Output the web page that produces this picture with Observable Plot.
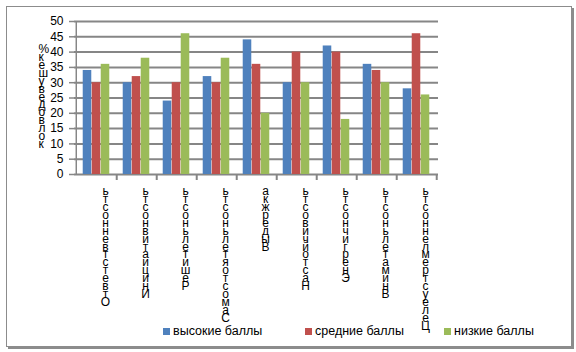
<!DOCTYPE html>
<html>
<head>
<meta charset="utf-8">
<script src="https://cdn.jsdelivr.net/npm/d3@7"></script>
<script src="https://cdn.jsdelivr.net/npm/@observablehq/plot@0.6"></script>
<style>
  html, body { margin: 0; padding: 0; background: #fff; }
  #wrap { position: relative; width: 576px; height: 352px; overflow: hidden; font-family: "Liberation Sans", Arial, sans-serif; }
  #frame { position: absolute; left: 6px; top: 6px; width: 564px; height: 339px; border: 1px solid #8c8c8c; box-shadow: 2px 2px 0 #8c8c8c; }
  #chart { position: absolute; left: 0; top: 0; }
  .leg { position: absolute; top: 324px; font-size: 12.5px; color: #000; white-space: nowrap; display: flex; align-items: center; }
  .leg i { display: inline-block; width: 7px; height: 7px; margin-right: 3px; }
</style>
</head>
<body>
<div id="wrap">
  <div id="frame"></div>
  <div id="chart"></div>
  <div id="legend"></div>
</div>
<script>
const categories = ["Ответственность","Инициативность","Решительность","Самостоятельность","Выдержка","Настойчивость","Энергичность","Внимательность","Целеустремленность"];
const series = ["высокие баллы","средние баллы","низкие баллы"];
const highScores = [34,30,24,32,44,30,42,36,28];
const midScores  = [30,32,30,30,36,40,40,34,46];
const lowScores  = [36,38,46,38,20,30,18,30,26];
const yTicks = [0,5,10,15,20,25,30,35,40,45,50];
const yLabel = "колво девушек %";
const colors = ["#4F81BD","#C0504D","#9BBB59"];

const W = 576, H = 352;
const mL = 74, mR = 138, mT = 21, mB = 178;
const step = (W - mL - mR) / categories.length;
const barW = 9;
const inset = (step - barW) / 2;
const gray = "#868686";

const valuesBySeries = [highScores, midScores, lowScores];
const rows = [];
series.forEach((s, si) => categories.forEach((c, ci) => rows.push({category: c, series: s, value: valuesBySeries[si][ci]})));

const stack = s => [...s.replace(/ /g, "")].reverse().join("\n");

const barMarks = series.map((s, si) =>
  Plot.barY(rows.filter(r => r.series === s), {
    x: "category", y: "value", fill: colors[si],
    insetLeft: inset, insetRight: inset, dx: (si - 1) * barW
  })
);

const chart = Plot.plot({
  width: W, height: H,
  marginLeft: mL, marginRight: mR, marginTop: mT, marginBottom: mB,
  style: {fontFamily: "Liberation Sans, Arial, sans-serif", fontSize: "12px", color: "#000", background: "transparent"},
  x: {type: "band", domain: categories, padding: 0},
  y: {domain: [0, 50]},
  marks: [
    Plot.gridY(yTicks, {stroke: gray, strokeOpacity: 1, strokeWidth: 2}),
    ...barMarks,
    Plot.ruleX([categories[0]], {dx: -step / 2, stroke: gray, strokeWidth: 1.5}),
    Plot.axisY({ticks: yTicks, tickSize: 5, tickPadding: 6, stroke: gray, strokeWidth: 1.5, label: null, fill: "#000", fontSize: 12}),
    Plot.axisX({tickSize: 6, tickFormat: () => "", dx: step / 2, stroke: gray, strokeWidth: 2, label: null}),
    Plot.text(categories, {x: d => d, text: stack, frameAnchor: "bottom", lineAnchor: "top", lineHeight: 0.66, dy: 15, dx: 9, fontSize: 12, fill: "#000"}),
    Plot.text([yLabel], {text: stack, frameAnchor: "left", dx: -36, lineAnchor: "middle", lineHeight: 0.66, fontSize: 12, fill: "#000"})
  ]
});
document.getElementById("chart").appendChild(chart);

const legendX = [163, 305, 444];
const legend = document.getElementById("legend");
series.forEach((s, i) => {
  const d = document.createElement("div");
  d.className = "leg";
  d.style.left = legendX[i] + "px";
  d.innerHTML = `<i style="background:${colors[i]}"></i><span>${s}</span>`;
  legend.appendChild(d);
});
</script>
</body>
</html>
